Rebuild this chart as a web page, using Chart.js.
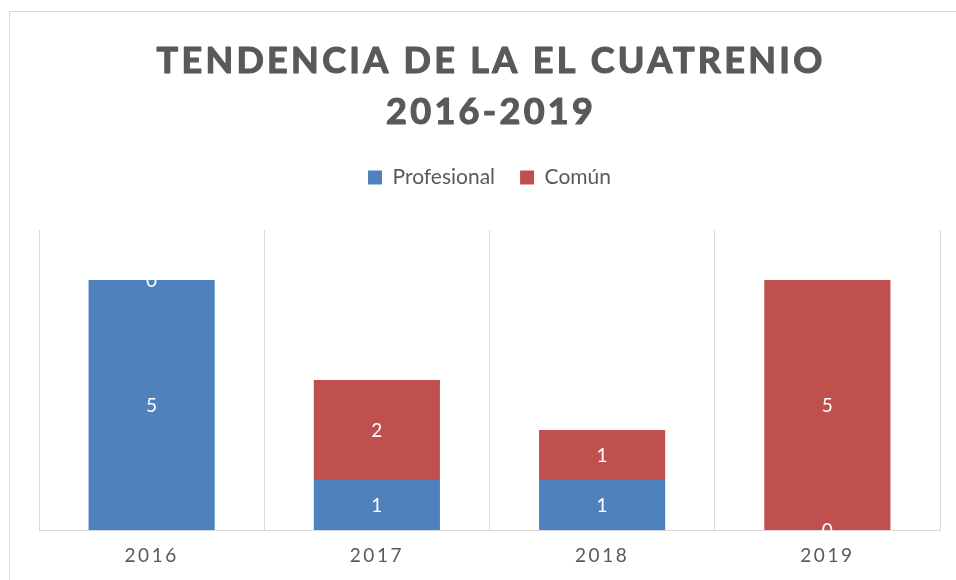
<!DOCTYPE html>
<html>
<head>
<meta charset="utf-8">
<script src="https://cdn.jsdelivr.net/npm/chart.js@4/dist/chart.umd.min.js"></script>
<style>
  html, body { margin: 0; padding: 0; background: #ffffff; }
  #wrap { width: 956px; height: 580px; position: relative; }
</style>
</head>
<body>
<div id="wrap"><canvas id="chart" width="956" height="580"></canvas></div>
<script>
// Categories and series
const years = ['2016', '2017', '2018', '2019'];
const profesional = [5, 1, 1, 0];
const comun = [0, 2, 1, 5];
const titleLines = ['TENDENCIA DE LA EL CUATRENIO', '2016-2019'];

const TEXT_GREY = '#595959';
const LINE_GREY = '#d9d9d9';
const PLOT_TOP = 230;
const LEGEND_TOP = 142;

// Thin frame around the whole chart
const framePlugin = {
  id: 'frame',
  beforeDraw(chart) {
    const ctx = chart.ctx;
    ctx.save();
    ctx.strokeStyle = LINE_GREY;
    ctx.lineWidth = 1;
    ctx.strokeRect(9.5, 11.5, 2000, 2000);
    ctx.restore();
  }
};

// Legend height stretched so the plot starts below it with a gap
const legendGapPlugin = {
  id: 'legendGap',
  beforeInit(chart) {
    const fit = chart.legend.fit;
    chart.legend.fit = function () {
      fit.call(this);
      this.height = PLOT_TOP - LEGEND_TOP;
    };
  }
};

// Value labels in the middle of each stacked segment, then letter spacing for the axis labels
const valueLabelPlugin = {
  id: 'valueLabels',
  afterDatasetsDraw(chart) {
    const ctx = chart.ctx;
    ctx.save();
    ctx.fillStyle = '#ffffff';
    ctx.font = '19px Lato';
    ctx.textAlign = 'center';
    ctx.textBaseline = 'middle';
    chart.data.datasets.forEach((ds, di) => {
      const meta = chart.getDatasetMeta(di);
      meta.data.forEach((bar, i) => {
        const p = bar.getProps(['x', 'y', 'base'], true);
        ctx.fillText(String(ds.data[i]), p.x, (p.y + p.base) / 2 + 1);
      });
    });
    ctx.restore();
    ctx.letterSpacing = '2.5px';
  },
  afterDraw(chart) {
    const ctx = chart.ctx;
    ctx.letterSpacing = '0px';
    // spaced heavy title
    const cx = (chart.chartArea.left + chart.chartArea.right) / 2;
    ctx.save();
    ctx.fillStyle = TEXT_GREY;
    ctx.strokeStyle = TEXT_GREY;
    ctx.lineWidth = 1.2;
    ctx.lineJoin = 'round';
    ctx.font = 'bold 36px Lato';
    ctx.letterSpacing = '3.3px';
    ctx.textAlign = 'center';
    ctx.textBaseline = 'alphabetic';
    titleLines.forEach((line, i) => {
      const y = i === 0 ? 73 : 124;
      ctx.fillText(line, cx + 1.6, y);
      ctx.strokeText(line, cx + 1.6, y);
    });
    ctx.restore();
  }
};

new Chart(document.getElementById('chart'), {
  type: 'bar',
  data: {
    labels: years,
    datasets: [
      { label: 'Profesional', data: profesional, backgroundColor: '#4F81BD', borderWidth: 0 },
      { label: 'Común', data: comun, backgroundColor: '#C0504D', borderWidth: 0 }
    ]
  },
  options: {
    responsive: false,
    animation: false,
    layout: { padding: { left: 39, right: 16, top: LEGEND_TOP, bottom: 0 } },
    datasets: { bar: { categoryPercentage: 0.56, barPercentage: 1 } },
    plugins: {
      title: { display: false },
      tooltip: { enabled: false },
      legend: {
        display: true,
        position: 'top',
        labels: {
          color: TEXT_GREY,
          font: { family: 'Lato', size: 21 },
          boxWidth: 14,
          boxHeight: 14,
          padding: 25
        }
      }
    },
    scales: {
      x: {
        stacked: true,
        grid: { color: LINE_GREY, lineWidth: 1, offset: true, drawTicks: false },
        border: { color: LINE_GREY, width: 1 },
        ticks: {
          color: TEXT_GREY,
          font: { family: 'Lato', size: 19 },
          padding: 14,
          z: 1
        },
        afterFit(scale) { scale.height = 50; }
      },
      y: {
        stacked: true,
        display: false,
        min: 0,
        max: 6
      }
    }
  },
  plugins: [framePlugin, legendGapPlugin, valueLabelPlugin]
});
</script>
</body>
</html>
